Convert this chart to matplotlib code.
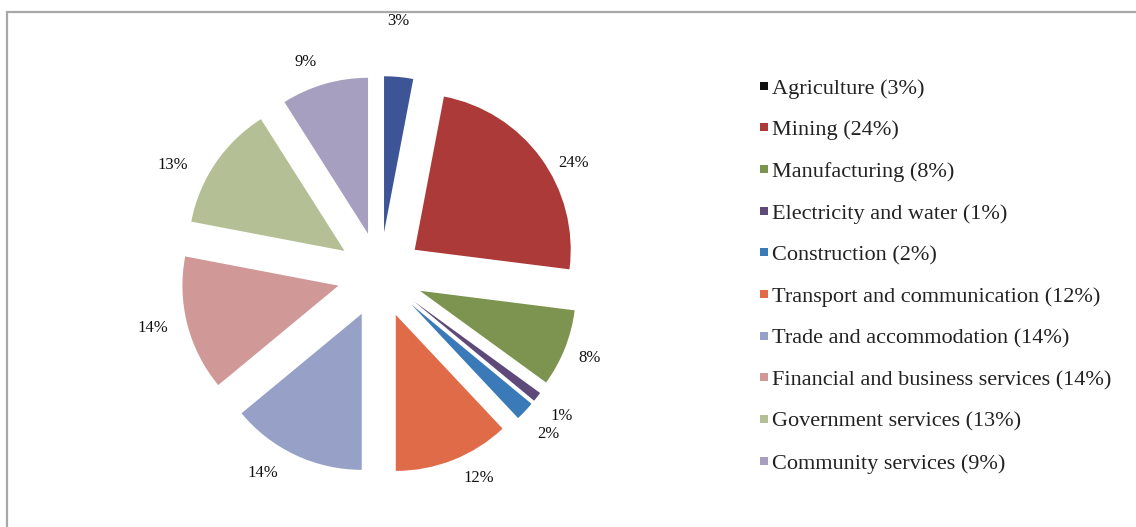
import numpy as np
import matplotlib
matplotlib.use("Agg")
import matplotlib.pyplot as plt
from matplotlib.lines import Line2D

# Sector shares of output
sectors = [
    "Agriculture",
    "Mining",
    "Manufacturing",
    "Electricity and water",
    "Construction",
    "Transport and communication",
    "Trade and accommodation",
    "Financial and business services",
    "Government services",
    "Community services",
]
shares = [3, 24, 8, 1, 2, 12, 14, 14, 13, 9]

wedge_colors = [
    "#3d5596", "#ab3a38", "#7d9350", "#5e4a7a", "#3b7ab8",
    "#e06b48", "#97a0c6", "#d09896", "#b5bf95", "#a69fbf",
]
marker_colors = ["#111111"] + wedge_colors[1:]
# radial distance (in radii) and angular nudge (deg) of each percentage label
label_dist = [1.36, 1.16, 1.17, 1.20, 1.21, 1.17, 1.20, 1.22, 1.23, 1.17]
label_turn = [1.6, -7.3, 0.0, 0.0, 0.0, 5.4, -6.7, -1.6, 7.5, 3.9]

W, H = 1136, 527
serif = ["Liberation Serif", "DejaVu Serif"]

fig = plt.figure(figsize=(W / 100, H / 100), dpi=100)
fig.patch.set_facecolor("white")
ax = fig.add_axes([0, 0, 1, 1])

R = 156
cx, cy = 380, H - 275
wedges, _ = ax.pie(
    shares,
    colors=wedge_colors,
    startangle=90,
    counterclock=False,
    radius=R,
    center=(cx, cy),
    explode=[0.275 * R] * len(shares),
    wedgeprops=dict(linewidth=0),
)
ax.set_xlim(0, W)
ax.set_ylim(0, H)
ax.set_aspect("auto")
ax.axis("off")

# Percentage labels outside each exploded wedge
for w, v, k, t in zip(wedges, shares, label_dist, label_turn):
    th = np.deg2rad((w.theta1 + w.theta2) / 2 + t)
    wx, wy = w.center
    ax.text(wx + k * R * np.cos(th), wy + k * R * np.sin(th), f"{v}%",
            ha="center", va="center", fontsize=12, family=serif, color="#111111")

# Chart border
ax.plot([7, 7, W], [0, H - 12, H - 12], color="#a8a8a8", lw=1.6,
        solid_joinstyle="miter", clip_on=False)

handles = [Line2D([], [], marker="s", linestyle="none", markersize=6,
                  markerfacecolor=c, markeredgewidth=0) for c in marker_colors]
labels = [f"{s} ({v}%)" for s, v in zip(sectors, shares)]
fig.legend(handles, labels, loc="upper left",
           bbox_to_anchor=(758 / W, 1 - 78 / H),
           frameon=False, prop={"family": serif, "size": 16},
           labelspacing=0.95, handlelength=0.5, handletextpad=0.15,
           borderpad=0, borderaxespad=0, labelcolor="#222222")

fig.savefig("out.png", dpi=100, facecolor="white")
